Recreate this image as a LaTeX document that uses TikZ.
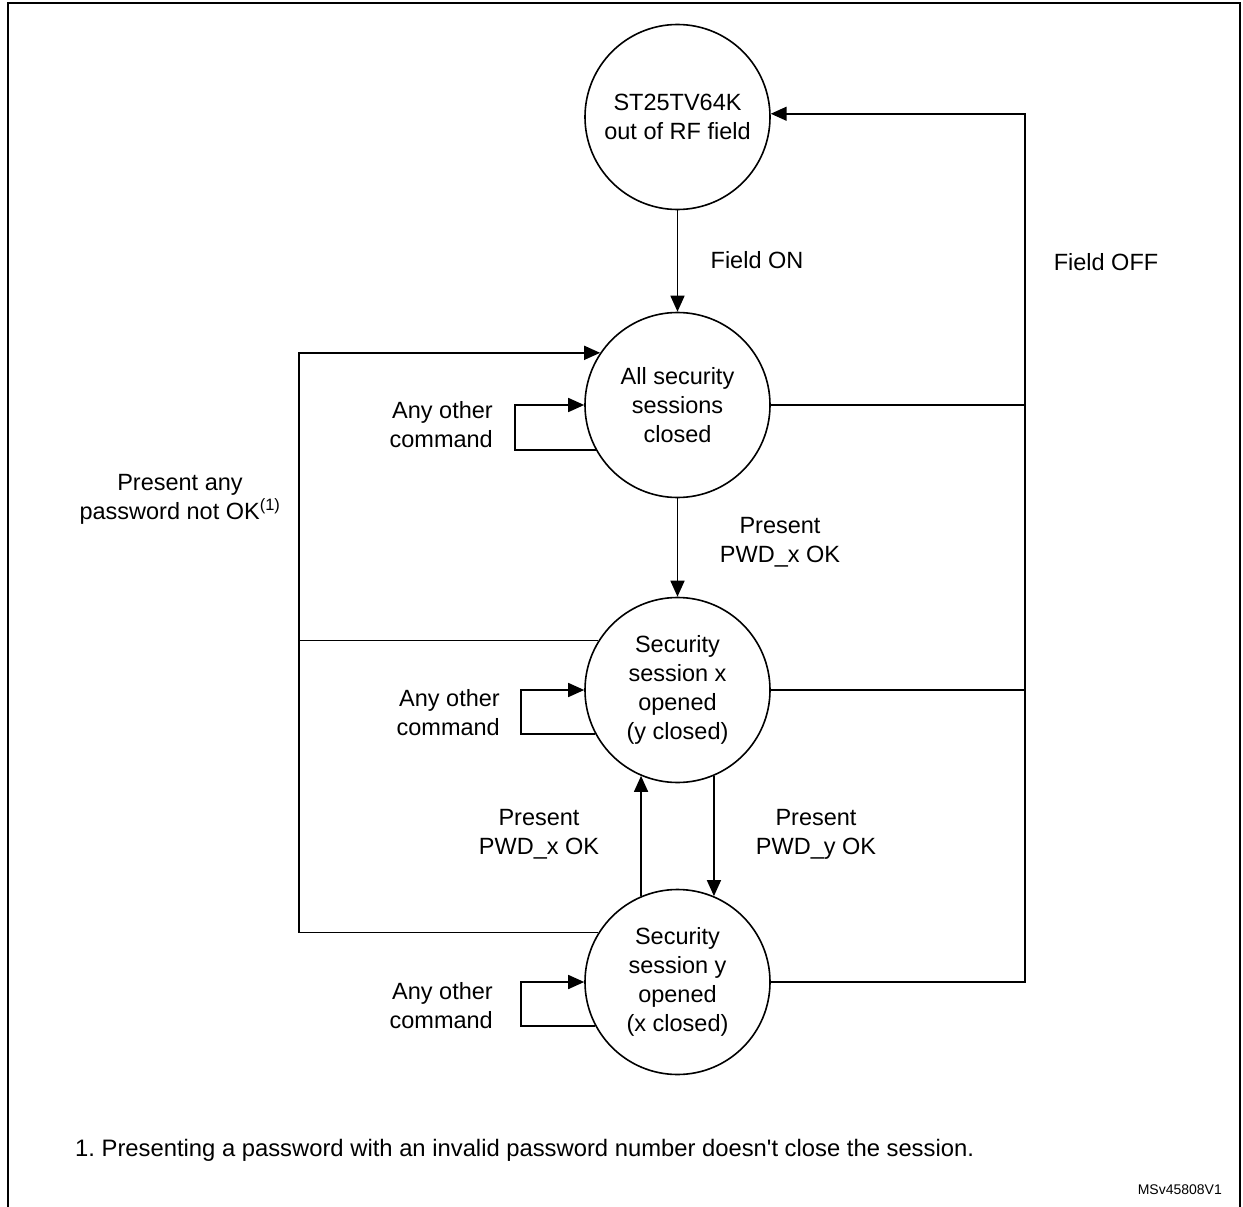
\documentclass[tikz,border=0pt]{standalone}
\usepackage{fontspec}
\setmainfont{Liberation Sans}
\usetikzlibrary{arrows.meta}
\begin{document}
\begin{tikzpicture}[x=1pt,y=-1pt,
  every node/.style={font=\fontsize{23.5}{29}\selectfont, inner sep=0pt},
  state/.style={circle, draw, line width=1.6pt, minimum size=185pt, align=center},
  lbl/.style={align=center},
  lblr/.style={align=right, anchor=east},
  wire/.style={line width=1.6pt},
  arr/.style={wire, -{Triangle[length=16pt,width=14pt]}},
  frame/.style={line width=2pt}]
\useasboundingbox (0,0) rectangle (1243,1207);
% open frame (no bottom edge)
\draw[frame] (7.5,1207) -- (7.5,3) -- (1240,3) -- (1240,1207);

% states
\node[state] (c1) at (677.5,117) {ST25TV64K\\out of RF field};
\node[state] (c2) at (677.5,405) {All security\\sessions\\closed};
\node[state] (c3) at (677.5,690) {Security\\session x\\opened\\(y closed)};
\node[state] (c4) at (677.5,982) {Security\\session y\\opened\\(x closed)};

% rails
\coordinate (L) at (299,0);
\coordinate (R) at (1025,0);
\coordinate (la) at (515,0);
\coordinate (lb) at (521,0);

% field on / off
\draw[arr] (c1.south) -- (c2.north);
\node[lbl] (fon) at (757,260) {Field ON};
\draw[arr] (c4.east) -| (R |- c1.2) -- (c1.2);
\draw[wire] (c2.east) -- (c2.east -| R);
\draw[wire] (c3.east) -- (c3.east -| R);
\node[lbl] (foff) at (1106,262) {Field OFF};

% password transitions
\draw[arr] (c2.south) -- (c3.north);
\node[lbl] (px1) at (780,542) {Present\\PWD\_x OK};
\draw[arr] (c4.113) -- (c3.247);
\node[lbl] (px2) at (539,834) {Present\\PWD\_x OK};
\draw[arr] (c3.293) -- (c4.67);
\node[lbl] (py) at (816,834) {Present\\PWD\_y OK};

% wrong password: back to all sessions closed
\draw[wire] (c3.148) -- (c3.148 -| L);
\draw[arr] (c4.148) -| (L |- c2.146) -- (c2.146);
\node[lbl] (pany) at (180,499) {Present any\\password not OK\textsuperscript{(1)}};

% self loops
\draw[arr] (c2.209) -- (c2.209 -| la) |- (c2.west);
\node[lblr] (o2) at (493,425) {Any other\\command};
\draw[arr] (c3.208) -- (c3.208 -| lb) |- (c3.west);
\node[lblr] (o3) at (500,713) {Any other\\command};
\draw[arr] (c4.208) -- (c4.208 -| lb) |- (c4.west);
\node[lblr] (o4) at (493,1006) {Any other\\command};

% footnote and reference
\node[anchor=west, font=\fontsize{23.8}{29}\selectfont] (fn) at (75,1150) {1.\ Presenting a password with an invalid password number doesn\textquotesingle t close the session.};
\node[anchor=east, font=\fontsize{14}{16}\selectfont] (ref) at (1222,1190) {MSv45808V1};
\end{tikzpicture}
\end{document}
